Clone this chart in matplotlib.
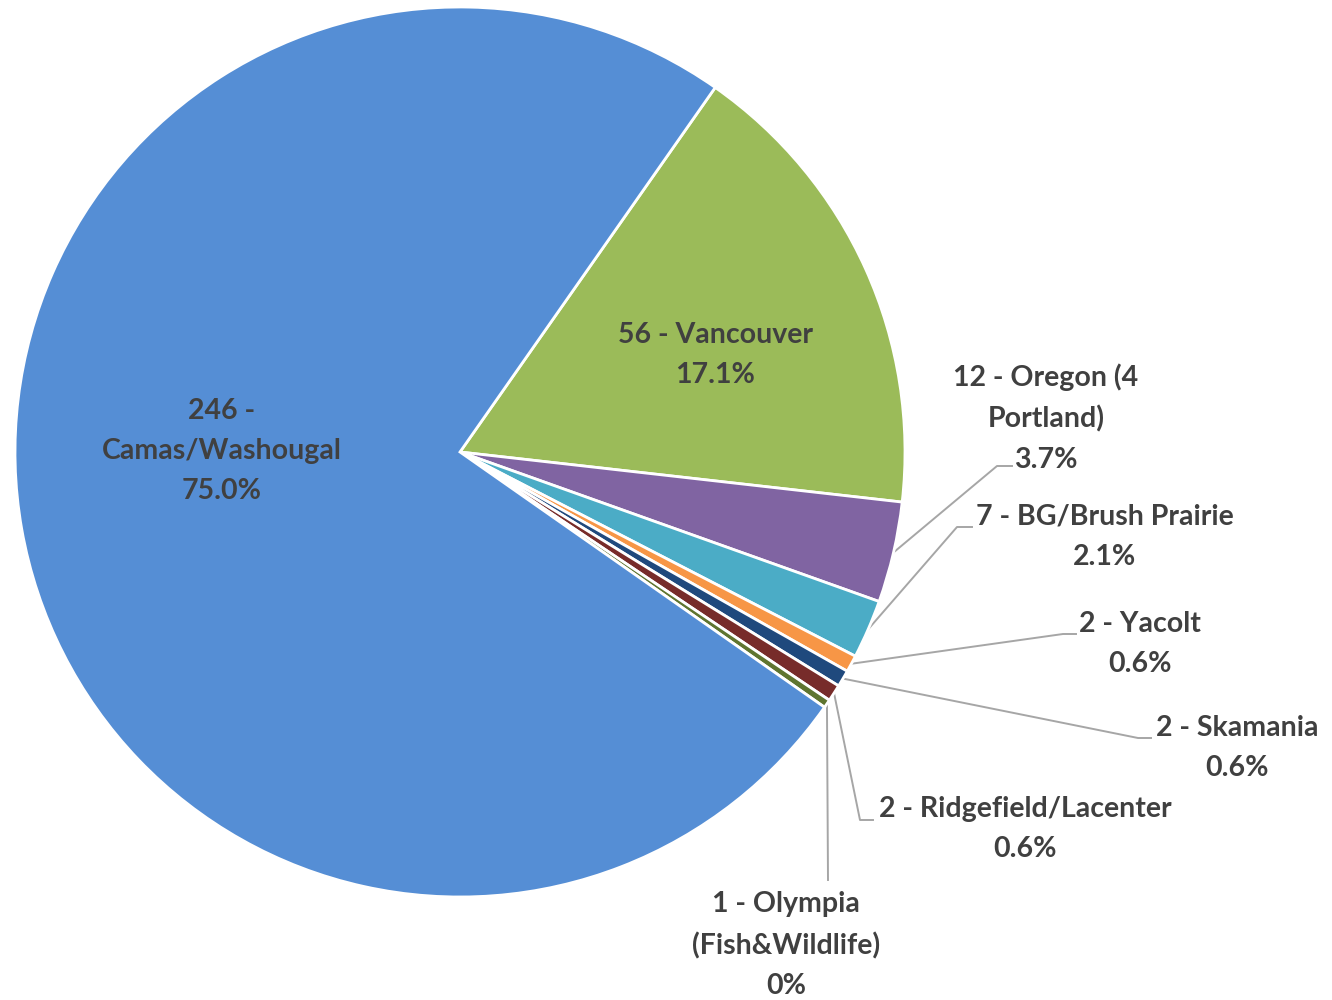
import numpy as np
import matplotlib.pyplot as plt

# slice data, clockwise from the top-right edge of Vancouver
names = ['56 - Vancouver', '12 - Oregon (4\nPortland)', '7 - BG/Brush Prairie', '2 - Yacolt',
         '2 - Skamania', '2 - Ridgefield/Lacenter', '1 - Olympia\n(Fish&Wildlife)', '246 -\nCamas/Washougal']
counts = [56, 12, 7, 2, 2, 2, 1, 246]
pct_labels = ['17.1%', '3.7%', '2.1%', '0.6%', '0.6%', '0.6%', '0%', '75.0%']
colors = ['#9BBB59', '#8064A2', '#4BACC6', '#F79646', '#1F497D', '#772C2A', '#5F7530', '#558ED5']

W, H = 1332, 1000
fig = plt.figure(figsize=(W / 100, H / 100), dpi=100)
ax = fig.add_axes([0, 0, 1, 1])

cx, cy, R = 460, H - 452, 445
start = 55
wedges, _ = ax.pie(counts, colors=colors, startangle=start, counterclock=False,
                   center=(cx, cy), radius=R, frame=True,
                   wedgeprops=dict(edgecolor='white', linewidth=2))
ax.set_xlim(0, W)
ax.set_ylim(0, H)
ax.set_aspect('equal')
ax.axis('off')

txt = dict(fontsize=20.5, fontweight='bold', color='#404040', family='Lato',
           ha='center', va='center', linespacing=1.68)

# label positions (pixel coords from the top) and leader-line elbows
label_pos = [(715, 355), (1046, 418), (1105, 537), (1140, 644),
             (1237, 748), (1025, 829), (786, 945), (222, 451)]
elbows = [None, [(997, 466), (1012, 466)], [(957, 527), (972, 527)], [(1063, 634), (1076, 634)],
          [(1138, 738), (1151, 738)], [(860, 820), (873, 820)], [(828, 880)], None]

total = sum(counts)
ang = start
for i, n in enumerate(counts):
    span = 360 * n / total
    mid = np.deg2rad(ang - span / 2)
    ang -= span
    x, y = label_pos[i]
    ax.text(x, H - y, names[i] + '\n' + pct_labels[i], **txt)
    if elbows[i] is not None:
        px = [cx + R * np.cos(mid)] + [p[0] for p in elbows[i]]
        py = [cy + R * np.sin(mid)] + [H - p[1] for p in elbows[i]]
        ax.plot(px, py, color='#A6A6A6', lw=1.4, zorder=0)

fig.savefig('out.png', dpi=100)
